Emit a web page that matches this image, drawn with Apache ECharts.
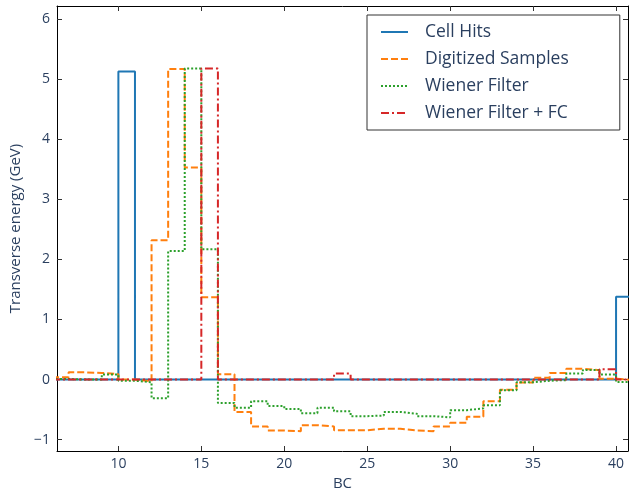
<!DOCTYPE html>
<html>
<head>
<meta charset="utf-8">
<title>Transverse energy vs BC</title>
<script src="https://cdn.jsdelivr.net/npm/echarts@6/dist/echarts.min.js"></script>
<style>
	html, body { margin: 0; padding: 0; background: #fff; }
	#chart { width: 629px; height: 490px; }
</style>
</head>
<body>
<div id="chart"></div>
<script>
	// bunch crossings, one bin per BC
	var bc = [6, 7, 8, 9, 10, 11, 12, 13, 14, 15, 16, 17, 18, 19, 20, 21, 22, 23,
		24, 25, 26, 27, 28, 29, 30, 31, 32, 33, 34, 35, 36, 37, 38, 39, 40];
	var cellHits = [0, 0, 0, 0, 5.13, 0, 0, 0, 0, 0, 0, 0, 0, 0, 0, 0, 0, 0,
		0, 0, 0, 0, 0, 0, 0, 0, 0, 0, 0, 0, 0, 0, 0, 0, 1.38];
	var digitized = [0.04, 0.12, 0.11, 0.09, 0.0, -0.03, 2.32, 5.17, 3.53, 1.37, 0.09, -0.54, -0.78, -0.85, -0.86, -0.76, -0.78, -0.845,
		-0.845, -0.82, -0.82, -0.85, -0.86, -0.78, -0.72, -0.62, -0.36, -0.17, -0.05, 0.03, 0.11, 0.18, 0.155, 0.015, -0.01];
	var wiener = [0.01, 0.0, 0.0, 0.083, -0.02, -0.045, -0.31, 2.14, 5.18, 2.17, -0.39, -0.47, -0.36, -0.44, -0.49, -0.56, -0.47, -0.53,
		-0.61, -0.6, -0.54, -0.57, -0.61, -0.63, -0.51, -0.48, -0.43, -0.18, -0.045, -0.02, -0.01, 0.1, 0.16, 0.083, -0.04];
	var wienerFC = [0, 0, 0, 0, 0, 0, 0, 0, 0, 5.18, 0, 0, 0, 0, 0, 0, 0, 0.1,
		0, 0, 0, 0, 0, 0, 0, 0, 0, 0, 0, 0, 0, 0, 0, 0.17, 0];
	var xTicks = [10, 15, 20, 25, 30, 35, 40];
	var yTicks = [-1, 0, 1, 2, 3, 4, 5, 6];

	var textColor = '#2a3f5f';

	// step 'end' holds each value until the next BC; add an edge point to close the last bin
	function toSteps(vals) {
		var pts = bc.map(function (b, i) {
			return [b, vals[i]];
		});
		pts.push([bc[bc.length - 1] + 1, vals[vals.length - 1]]);
		return pts;
	}

	function minusSign(v) {
		return String(v).replace('-', '\u2212');
	}

	function xAxisCfg(pos) {
		return {
			type: 'value',
			position: pos,
			min: 6.3,
			max: 40.72,
			axisLine: { show: true, onZero: false, lineStyle: { color: '#000', width: 1 } },
			axisTick: { show: true, inside: true, length: 5, customValues: xTicks, lineStyle: { color: '#333' } },
			axisLabel: {
				show: pos === 'bottom',
				customValues: xTicks,
				fontFamily: 'Open Sans',
				fontSize: 14,
				color: textColor,
				margin: 6
			},
			splitLine: { show: false }
		};
	}

	function yAxisCfg(pos) {
		return {
			type: 'value',
			position: pos,
			min: -1.19,
			max: 6.22,
			axisLine: { show: true, onZero: false, lineStyle: { color: '#000', width: 1 } },
			axisTick: { show: true, inside: true, length: 5, customValues: yTicks, lineStyle: { color: '#333' } },
			axisLabel: {
				show: pos === 'left',
				customValues: yTicks,
				formatter: minusSign,
				fontFamily: 'Open Sans',
				fontSize: 14,
				color: textColor,
				margin: 7
			},
			splitLine: { show: false }
		};
	}

	function stepSeries(name, vals, color, type) {
		return {
			name: name,
			type: 'line',
			step: 'end',
			symbol: 'none',
			data: toSteps(vals),
			itemStyle: { color: color },
			lineStyle: { color: color, width: 2, type: type }
		};
	}

	var xBottom = xAxisCfg('bottom');
	xBottom.name = 'BC';
	xBottom.nameLocation = 'middle';
	xBottom.nameGap = 21;
	xBottom.nameTextStyle = { fontFamily: 'Open Sans', fontSize: 15, color: textColor };

	var yLeft = yAxisCfg('left');
	yLeft.name = 'Transverse energy (GeV)';
	yLeft.nameLocation = 'middle';
	yLeft.nameGap = 34;
	yLeft.nameTextStyle = { fontFamily: 'Open Sans', fontSize: 15, color: textColor };

	var myChart = echarts.init(document.getElementById('chart'));
	var option = {
		animation: false,
		backgroundColor: '#fff',
		grid: { left: 57, right: 1, top: 6, bottom: 39, outerBoundsMode: 'none', containLabel: false },
		legend: {
			orient: 'vertical',
			left: 367,
			top: 15,
			itemWidth: 27,
			itemHeight: 14,
			itemGap: 9,
			padding: [8, 51, 8, 13],
			borderColor: '#333',
			borderWidth: 1,
			backgroundColor: '#fff',
			itemStyle: { opacity: 0 },
			textStyle: { fontFamily: 'Open Sans', fontSize: 17.5, color: textColor, padding: [0, 0, 0, 12] },
			data: ['Cell Hits', 'Digitized Samples', 'Wiener Filter', 'Wiener Filter + FC']
		},
		xAxis: [xBottom, xAxisCfg('top')],
		yAxis: [yLeft, yAxisCfg('right')],
		series: [
			stepSeries('Cell Hits', cellHits, '#1f77b4', 'solid'),
			stepSeries('Digitized Samples', digitized, '#ff7f0e', [7, 3]),
			stepSeries('Wiener Filter', wiener, '#2ca02c', [2, 2]),
			stepSeries('Wiener Filter + FC', wienerFC, '#d62728', [8, 3, 2, 3])
		]
	};
	myChart.setOption(option);
</script>
</body>
</html>
